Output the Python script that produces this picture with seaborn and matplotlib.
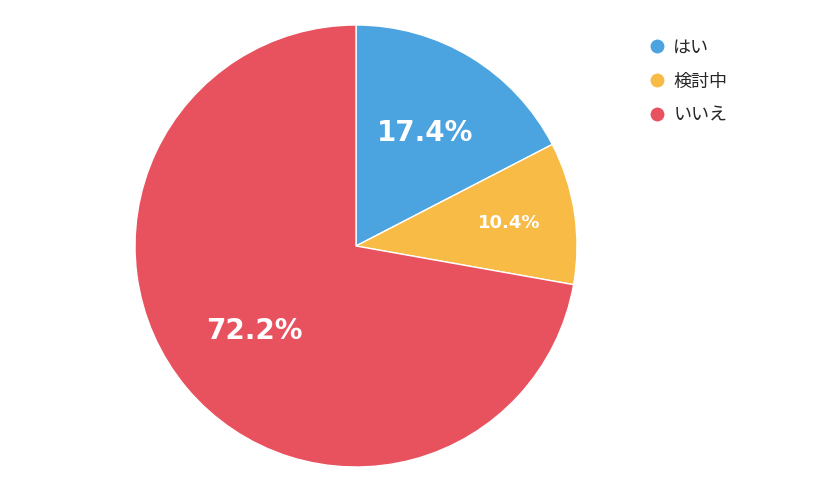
import matplotlib
matplotlib.use("Agg")
import matplotlib.pyplot as plt
import seaborn as sns
import numpy as np
from matplotlib.lines import Line2D

sns.set_theme(style="white")
plt.rcParams['font.family'] = ['Noto Sans CJK JP', 'DejaVu Sans']

labels = ["はい", "検討中", "いいえ"]
values = [17.4, 10.4, 72.2]
colors = ["#4BA3E0", "#F8BB45", "#E8525F"]
label_sizes = [20, 13, 20]
label_dist = [0.6, 0.7, 0.6]

fig = plt.figure(figsize=(8.3, 4.93), dpi=100)
ax = fig.add_axes([(356-221)/830, (493-246-221)/493, 442/830, 442/493])
wedges, texts = ax.pie(values, colors=colors, startangle=90, counterclock=False,
                       wedgeprops=dict(edgecolor="white", linewidth=1))
for w, v, s, d in zip(wedges, values, label_sizes, label_dist):
    ang = np.deg2rad((w.theta1 + w.theta2) / 2)
    ax.text(d*np.cos(ang), d*np.sin(ang), f"{v}%", ha="center", va="center",
            color="white", fontsize=s, fontweight="bold", family="DejaVu Sans")
ax.set_xlim(-1, 1); ax.set_ylim(-1, 1); ax.set_aspect("equal"); ax.axis("off")

handles = [Line2D([0], [0], marker="o", color="w", markerfacecolor=c, markersize=11) for c in colors]
fig.legend(handles, labels, loc="upper left", bbox_to_anchor=(630/830, 1-22/493),
           frameon=False, fontsize=13, handletextpad=0.3, labelspacing=0.9, handlelength=1.2)
fig.savefig("out.png", dpi=100)
